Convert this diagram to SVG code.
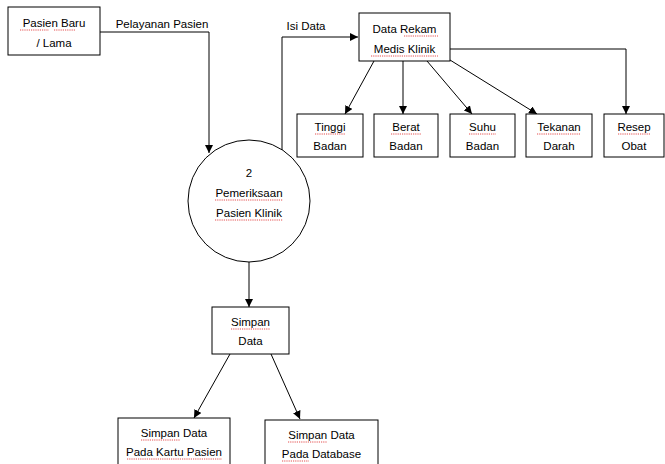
<svg xmlns="http://www.w3.org/2000/svg" width="665" height="464" viewBox="0 0 665 464">
<defs>
<marker id="ah" viewBox="0 0 10 10" refX="10" refY="5" markerWidth="8" markerHeight="8" markerUnits="userSpaceOnUse" orient="auto"><path d="M0,0 L10,5 L0,10 z" fill="#000"/></marker>
</defs>
<style>
rect.n{fill:#fff;stroke:#000;stroke-width:1}
circle.n{fill:#fff;stroke:#000;stroke-width:1}
text{font-family:"Liberation Sans",Arial,sans-serif;font-size:11.5px;fill:#000;text-anchor:middle}
.c{fill:none;stroke:#000;stroke-width:1}
.a{marker-end:url(#ah)}
.sq{fill:none;stroke:#d22;stroke-width:0.8;stroke-dasharray:1.2,1}
</style>
<rect width="665" height="464" fill="#fff"/>
<g id="connectors">
<polyline class="c a" points="100,32 209,32 209,153"/>
<polyline class="c a" points="282,150 282,37 358,37"/>
<line class="c a" x1="374" y1="61" x2="345" y2="114"/>
<line class="c a" x1="403" y1="61" x2="403" y2="114"/>
<line class="c a" x1="427" y1="61" x2="472" y2="114"/>
<line class="c a" x1="450" y1="60" x2="537" y2="114"/>
<polyline class="c a" points="450,49 626,49 626,114"/>
<line class="c a" x1="249" y1="262" x2="249" y2="307"/>
<line class="c a" x1="230" y1="354" x2="194" y2="418"/>
<line class="c a" x1="271" y1="354" x2="300" y2="419"/>
</g>
<g id="label-pelayanan"><text x="162" y="28">Pelayanan Pasien</text></g>
<g id="label-isidata"><text x="306" y="30">Isi Data</text></g>
<g id="pasien">
<rect class="n" x="8" y="7" width="92" height="48"/>
<text x="54" y="27">Pasien Baru</text>
<text x="54" y="47">/ Lama</text>
<path class="sq" d="M20,30 H49 M54,30 H76"/>
</g>
<g id="rekam">
<rect class="n" x="359" y="13" width="91" height="48"/>
<text x="404.5" y="33">Data Rekam</text>
<text x="404.5" y="53">Medis Klinik</text>
<path class="sq" d="M404,36 H438 M371,56 H438"/>
</g>
<g id="tinggi">
<rect class="n" x="297" y="114" width="66" height="43"/>
<text x="330" y="131">Tinggi</text>
<text x="330" y="150">Badan</text>
<path class="sq" d="M315,134 H345"/>
</g>
<g id="berat">
<rect class="n" x="374" y="114" width="64" height="43"/>
<text x="406" y="131">Berat</text>
<text x="406" y="150">Badan</text>
<path class="sq" d="M391,134 H421"/>
</g>
<g id="suhu">
<rect class="n" x="450" y="114" width="65" height="43"/>
<text x="482.5" y="131">Suhu</text>
<text x="482.5" y="150">Badan</text>
<path class="sq" d="M469,134 H496"/>
</g>
<g id="tekanan">
<rect class="n" x="526" y="114" width="66" height="43"/>
<text x="559" y="131">Tekanan</text>
<text x="559" y="150">Darah</text>
<path class="sq" d="M537,134 H581"/>
</g>
<g id="resep">
<rect class="n" x="604" y="114" width="60" height="43"/>
<text x="634" y="131">Resep</text>
<text x="634" y="150">Obat</text>
<path class="sq" d="M618,134 H650"/>
</g>
<g id="proses">
<circle class="n" cx="249" cy="201" r="61"/>
<text x="249" y="177">2</text>
<text x="249" y="197">Pemeriksaan</text>
<text x="249" y="217">Pasien Klinik</text>
<path class="sq" d="M215,200 H283 M215,220 H283"/>
</g>
<g id="simpan">
<rect class="n" x="212" y="307" width="77" height="47"/>
<text x="250.5" y="326">Simpan</text>
<text x="250.5" y="345">Data</text>
<path class="sq" d="M231,329 H270"/>
</g>
<g id="kartu">
<rect class="n" x="118" y="418" width="112" height="50"/>
<text x="174" y="437">Simpan Data</text>
<text x="174" y="456">Pada Kartu Pasien</text>
<path class="sq" d="M141,440 H180 M127,459 H222"/>
</g>
<g id="database">
<rect class="n" x="265" y="420" width="113" height="48"/>
<text x="321.5" y="439">Simpan Data</text>
<text x="321.5" y="458">Pada Database</text>
<path class="sq" d="M288,442 H327 M282,461 H309"/>
</g>
</svg>
